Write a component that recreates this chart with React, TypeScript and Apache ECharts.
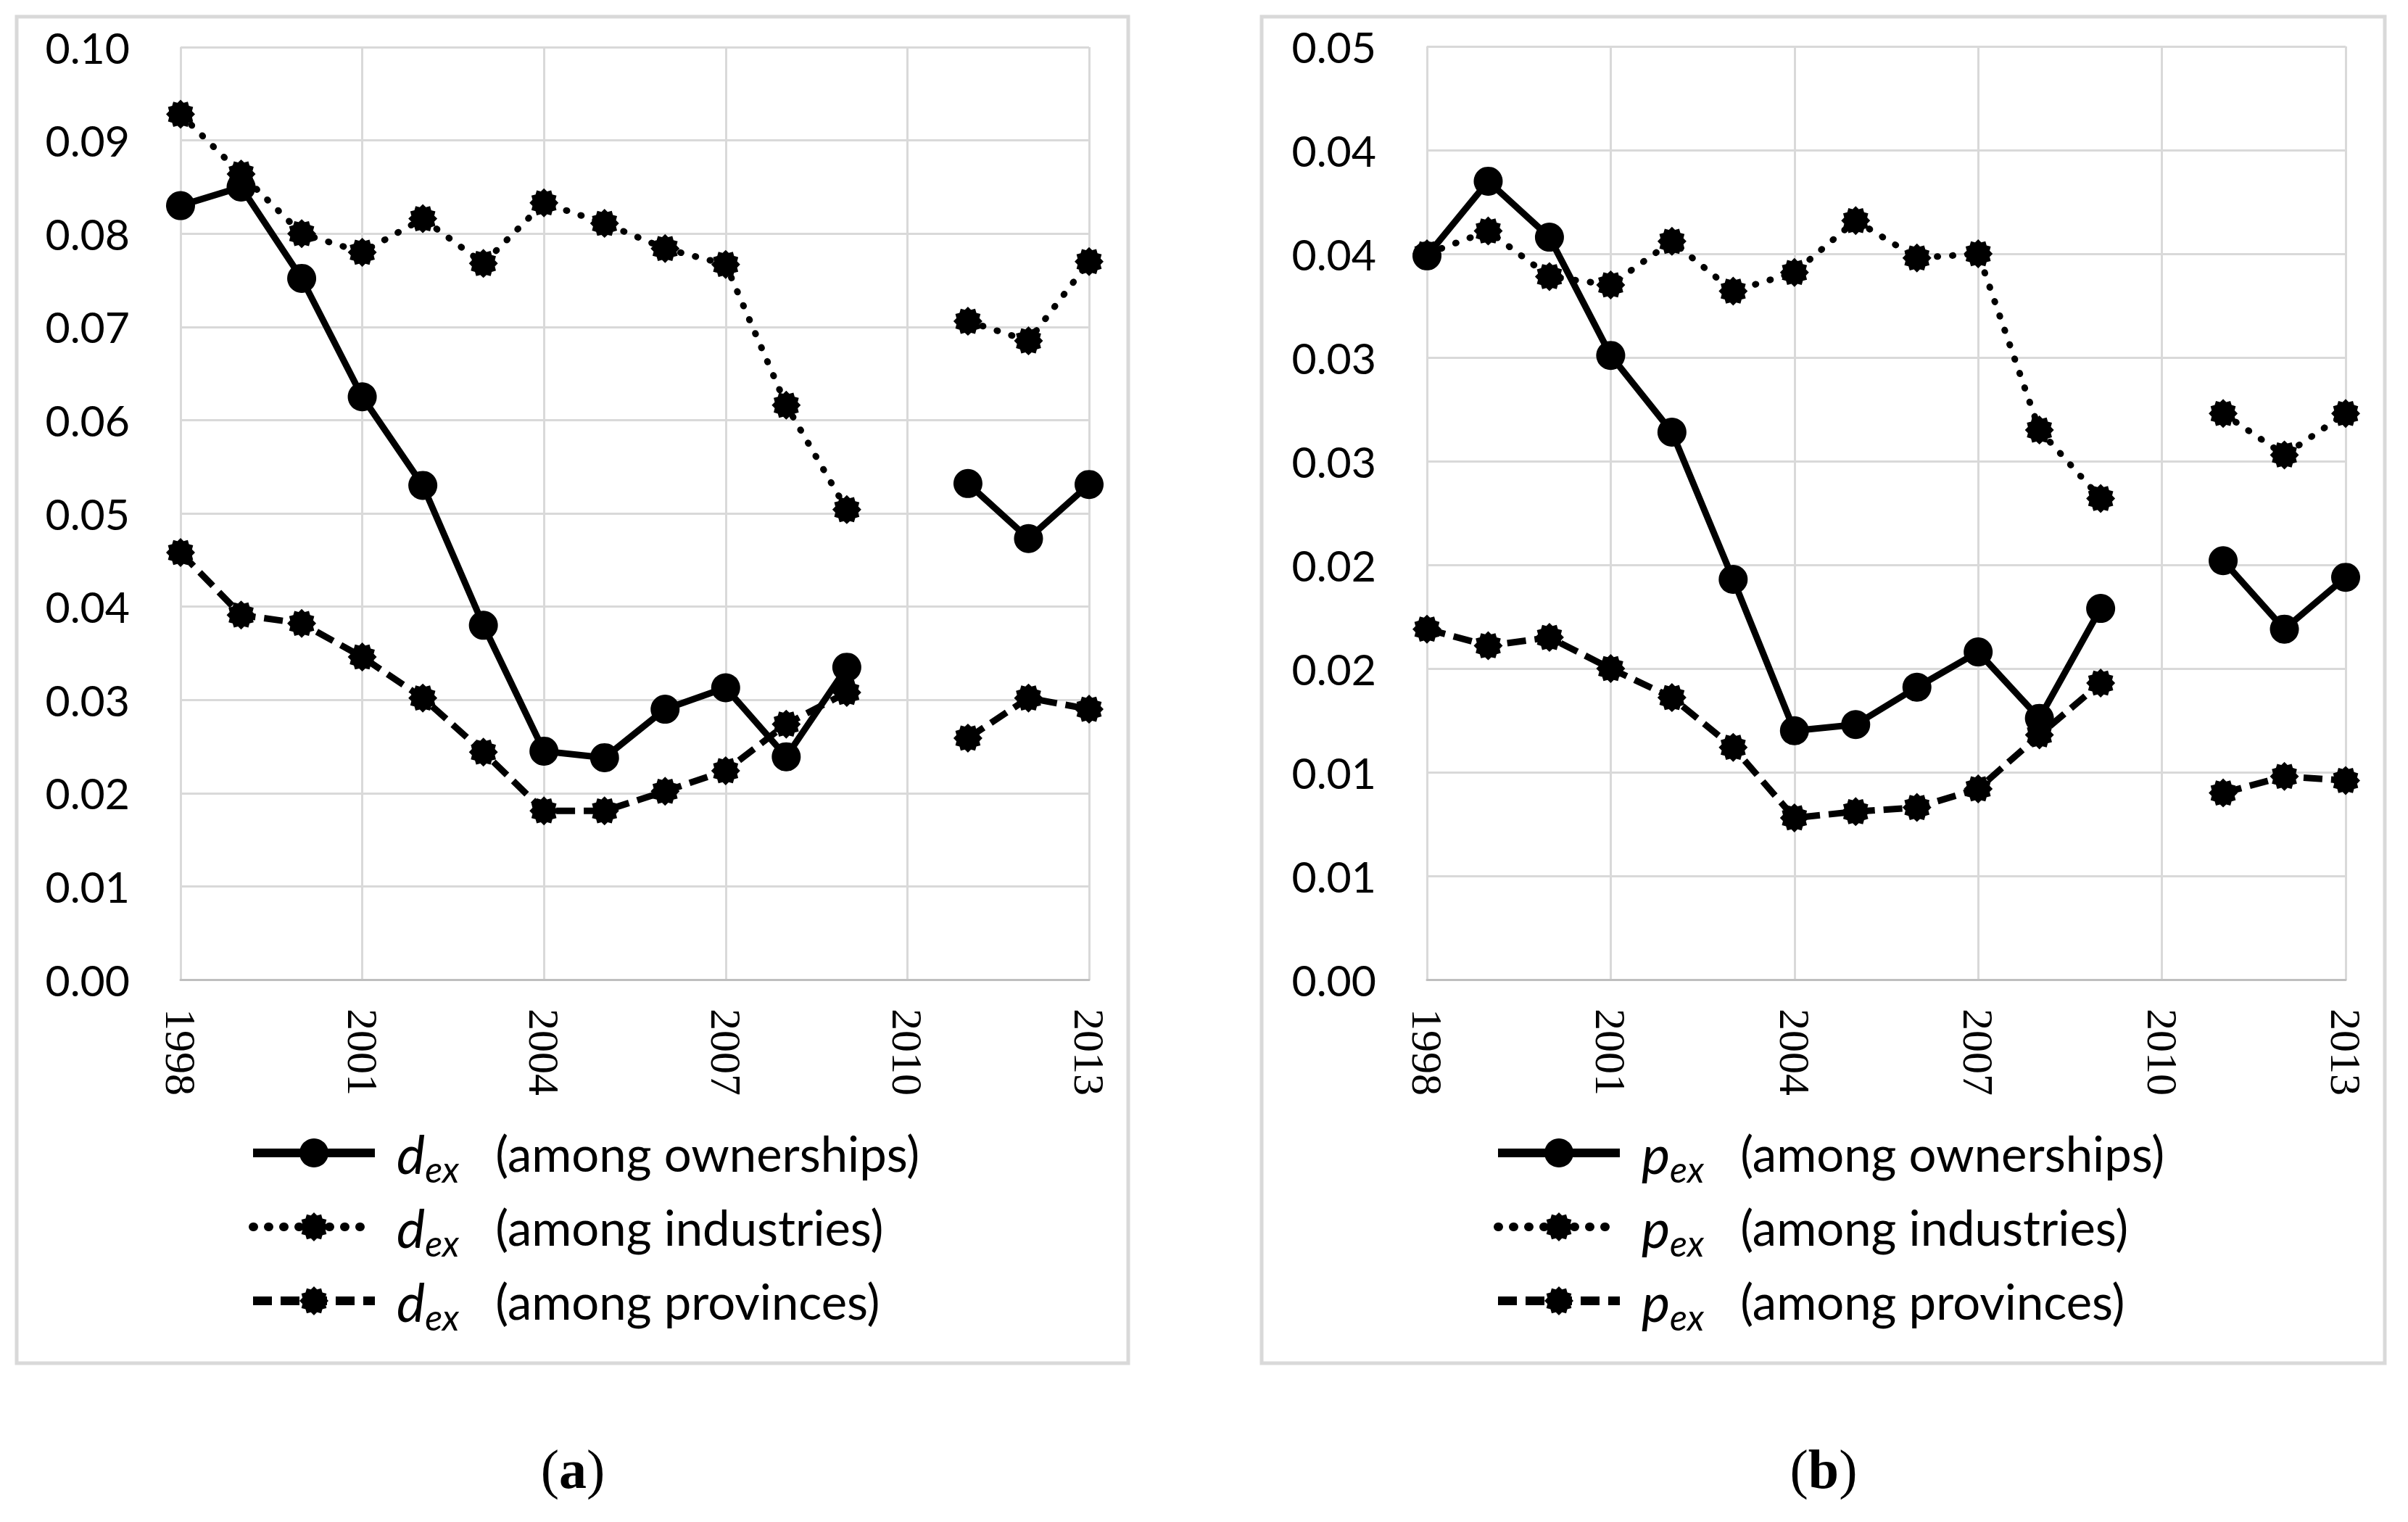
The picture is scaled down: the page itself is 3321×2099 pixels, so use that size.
import React, { useEffect, useRef } from "react";
import * as echarts from "echarts";

const years = ["1998","1999","2000","2001","2002","2003","2004","2005","2006","2007","2008","2009","2010","2011","2012","2013"];

// Panel (a): d_ex
const ownA = [0.0830, 0.0850, 0.0752, 0.0625, 0.0530, 0.0380, 0.0245, 0.0238, 0.0290, 0.0313, 0.0239, 0.0335, null, 0.0532, 0.0473, 0.0531];
const indA = [0.0928, 0.0864, 0.0800, 0.0780, 0.0816, 0.0768, 0.0833, 0.0811, 0.0784, 0.0767, 0.0616, 0.0504, null, 0.0706, 0.0685, 0.0770];
const provA = [0.0458, 0.0391, 0.0382, 0.0346, 0.0302, 0.0244, 0.0181, 0.0181, 0.0202, 0.0224, 0.0274, 0.0308, null, 0.0259, 0.0302, 0.0290];

// Panel (b): p_ex
const ownB = [0.0349, 0.0385, 0.0358, 0.0301, 0.0264, 0.0193, 0.0120, 0.0123, 0.0141, 0.0158, 0.0126, 0.0179, null, 0.0202, 0.0169, 0.0194];
const indB = [0.0350, 0.0361, 0.0339, 0.0335, 0.0356, 0.0332, 0.0341, 0.0366, 0.0348, 0.0350, 0.0265, 0.0232, null, 0.0273, 0.0253, 0.0273];
const provB = [0.0169, 0.0161, 0.0165, 0.0150, 0.0136, 0.0112, 0.0078, 0.0081, 0.0083, 0.0092, 0.0118, 0.0143, null, 0.0090, 0.0098, 0.0096];

const groupLabels = ["(among ownerships)", "(among industries)", "(among provinces)"];

const STAR = (() => {
  let d = "";
  for (let i = 0; i < 24; i++) {
    const a = (i * Math.PI) / 12;
    const r = i % 2 === 0 ? 50 : 41;
    const x = (50 + r * Math.sin(a)).toFixed(2);
    const y = (50 - r * Math.cos(a)).toFixed(2);
    d += (i === 0 ? "M" : "L") + x + " " + y + " ";
  }
  return "path://" + d + "Z";
})();

const SANS = "Lato, 'Open Sans', sans-serif";
const SERIF = "'Liberation Serif', 'DejaVu Serif', serif";

const fmt2 = (v: number) => (Math.round(v * 100 + 1e-6) / 100).toFixed(2);

export default function App() {
  const ref = useRef<HTMLDivElement>(null);
  useEffect(() => {
    if (!ref.current) return;
    const chart = echarts.init(ref.current, undefined, { renderer: "svg" });

    const styles = [
      { symbol: "circle", type: "solid" as any, cap: "butt" },
      { symbol: STAR, type: [1, 20], cap: "round" },
      { symbol: STAR, type: [26, 12], cap: "butt" },
    ];

    const mk = (name: string, data: any[], idx: number, k: number) => ({
      type: "line",
      name,
      xAxisIndex: idx,
      yAxisIndex: idx,
      data,
      symbol: styles[k].symbol,
      symbolSize: 40,
      showSymbol: true,
      connectNulls: false,
      lineStyle: { color: "#000", width: 9, type: styles[k].type, cap: styles[k].cap },
      itemStyle: { color: "#000" },
      emphasis: { disabled: true },
      z: 3 - k,
    });

    const namesA = ["a0", "a1", "a2"];
    const namesB = ["b0", "b1", "b2"];

    const rich = {
      d: { fontFamily: SANS, fontStyle: "italic", fontSize: 74, lineHeight: 60, padding: [0, 0, 0, 25], color: "#000" },
      s: { fontFamily: SANS, fontStyle: "italic", fontSize: 50, lineHeight: 60, padding: [44, 0, 0, 0], color: "#000" },
      t: { fontFamily: SANS, fontSize: 67, lineHeight: 60, padding: [0, 0, 0, 50], color: "#000" },
    };

    const mkLegend = (names: string[], letter: string, left: number) => ({
      left,
      top: 1538,
      orient: "vertical",
      itemWidth: 168,
      itemHeight: 50,
      itemGap: 8,
      selectedMode: false,
      data: names,
      lineStyle: { width: 12 },
      formatter: (n: string) => {
        const i = names.indexOf(n);
        return `{d|${letter}}{s|ex}{t|${groupLabels[i]}}`;
      },
      textStyle: { rich },
    });

    const xAx = (gi: number) => ({
      type: "category",
      gridIndex: gi,
      data: years,
      boundaryGap: false,
      axisLine: { show: true, lineStyle: { color: "#bfbfbf", width: 3 } },
      axisTick: { show: false },
      axisLabel: { interval: 2, rotate: -90, margin: 40, fontFamily: SERIF, fontSize: 60, color: "#000" },
      splitLine: { show: true, interval: 2, lineStyle: { color: "#d9d9d9", width: 3 } },
    });

    const yAx = (gi: number, max: number, interval: number) => ({
      type: "value",
      gridIndex: gi,
      min: 0,
      max,
      interval,
      axisLine: { show: false },
      axisTick: { show: false },
      axisLabel: { margin: 70, fontFamily: SANS, fontSize: 59, color: "#000", formatter: (v: number) => fmt2(v) },
      splitLine: { show: true, lineStyle: { color: "#d9d9d9", width: 3 } },
    });

    chart.setOption({
      animation: false,
      backgroundColor: "#fff",
      grid: [
        { left: 249, top: 65, width: 1253, height: 1286 },
        { left: 1968, top: 64, width: 1267, height: 1287 },
      ],
      xAxis: [xAx(0), xAx(1)],
      yAxis: [yAx(0, 0.1, 0.01), yAx(1, 0.045, 0.005)],
      legend: [mkLegend(namesA, "d", 338), mkLegend(namesB, "p", 2055)],
      series: [
        mk("a0", ownA, 0, 0),
        mk("a1", indA, 0, 1),
        mk("a2", provA, 0, 2),
        mk("b0", ownB, 1, 0),
        mk("b1", indB, 1, 1),
        mk("b2", provB, 1, 2),
      ],
      graphic: [
        { type: "rect", shape: { x: 23, y: 23, width: 1533, height: 1857 }, style: { fill: "none", stroke: "#d9d9d9", lineWidth: 5 } },
        { type: "rect", shape: { x: 1740, y: 23, width: 1549, height: 1857 }, style: { fill: "none", stroke: "#d9d9d9", lineWidth: 5 } },
        {
          type: "text", x: 790, y: 2026,
          style: {
            text: "{p|(}{b|a}{p|)}", align: "center", verticalAlign: "middle",
            rich: { p: { fontFamily: SERIF, fontSize: 76, fill: "#000" }, b: { fontFamily: SERIF, fontSize: 76, fontWeight: "bold", fill: "#000" } },
          },
        },
        {
          type: "text", x: 2515, y: 2026,
          style: {
            text: "{p|(}{b|b}{p|)}", align: "center", verticalAlign: "middle",
            rich: { p: { fontFamily: SERIF, fontSize: 76, fill: "#000" }, b: { fontFamily: SERIF, fontSize: 76, fontWeight: "bold", fill: "#000" } },
          },
        },
      ],
    });
    return () => chart.dispose();
  }, []);
  return <div ref={ref} style={{ position: "fixed", left: 0, top: 0, width: 3321, height: 2099 }} />;
}
